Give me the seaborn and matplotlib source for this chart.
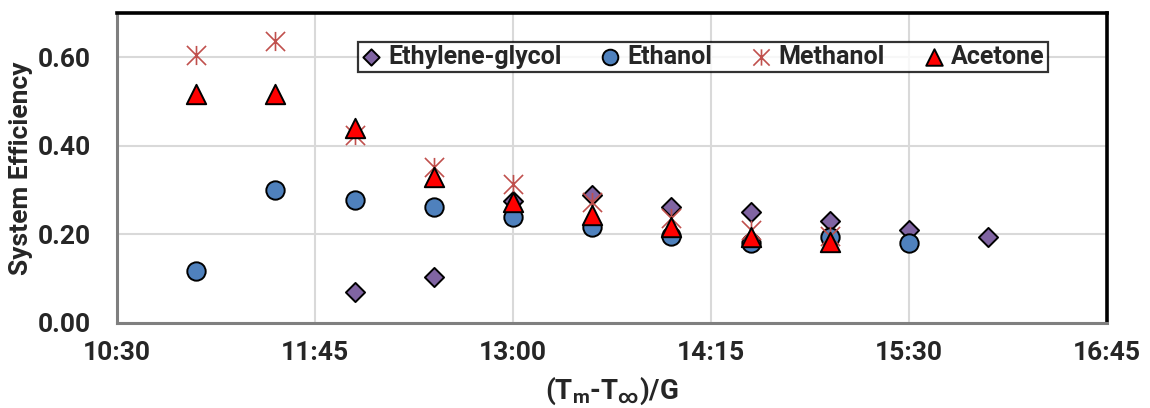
import numpy as np
import pandas as pd
import matplotlib
matplotlib.use("Agg")
import matplotlib.pyplot as plt
from matplotlib.path import Path
from matplotlib.ticker import FixedLocator, FuncFormatter
import seaborn as sns

# ---- data -------------------------------------------------------------
eg_times = ["12:00", "12:30", "13:00", "13:30", "14:00", "14:30", "15:00", "15:30", "16:00"]
eg_eff = [0.070, 0.104, 0.276, 0.290, 0.262, 0.251, 0.230, 0.211, 0.195]

et_times = ["11:00", "11:30", "12:00", "12:30", "13:00", "13:30", "14:00", "14:30", "15:00", "15:30"]
et_eff = [0.117, 0.300, 0.278, 0.262, 0.240, 0.217, 0.196, 0.181, 0.195, 0.181]

me_times = ["11:00", "11:30", "12:00", "12:30", "13:00", "13:30", "14:00", "14:30", "15:00"]
me_eff = [0.605, 0.636, 0.424, 0.353, 0.314, 0.274, 0.236, 0.211, 0.196]

ac_times = ["11:00", "11:30", "12:00", "12:30", "13:00", "13:30", "14:00", "14:30", "15:00"]
ac_eff = [0.518, 0.518, 0.440, 0.330, 0.274, 0.244, 0.217, 0.195, 0.183]

x_tick_labels = ["10:30", "11:45", "13:00", "14:15", "15:30", "16:45"]
y_ticks = [0.0, 0.2, 0.4, 0.6]


def to_minutes(t):
    h, m = t.split(":")
    return int(h) * 60 + int(m)


def fmt_time(v, _pos=None):
    v = int(round(v))
    return f"{v // 60}:{v % 60:02d}"


# asterisk marker: an X with a vertical bar through it
star_path = Path(
    [(-1, -1), (1, 1), (-1, 1), (1, -1), (0, -1), (0, 1)],
    [Path.MOVETO, Path.LINETO, Path.MOVETO, Path.LINETO, Path.MOVETO, Path.LINETO],
)

series = [
    ("Ethylene-glycol", eg_times, eg_eff, dict(marker="D", s=95, color="#8064A2",
                                               edgecolor="black", linewidth=1.4)),
    ("Ethanol", et_times, et_eff, dict(marker="o", s=175, color="#4F81BD",
                                       edgecolor="black", linewidth=1.4)),
    ("Methanol", me_times, me_eff, dict(marker=star_path, s=190, color="#C0504D",
                                        edgecolor="#C0504D", linewidth=1.2)),
    ("Acetone", ac_times, ac_eff, dict(marker="^", s=195, color="#FF0000",
                                       edgecolor="black", linewidth=1.4)),
]

frames = []
for name, times, eff, _ in series:
    frames.append(pd.DataFrame({"time": [to_minutes(t) for t in times],
                                "efficiency": eff, "fluid": name}))
df = pd.concat(frames, ignore_index=True)

# ---- styling ----------------------------------------------------------
FONT = "Roboto"
sns.set_theme(style="white")
plt.rcParams["font.family"] = [FONT, "DejaVu Sans"]
plt.rcParams["font.weight"] = "bold"
plt.rcParams["mathtext.fontset"] = "custom"
plt.rcParams["mathtext.rm"] = f"{FONT}:bold"
plt.rcParams["mathtext.it"] = f"{FONT}:bold"
plt.rcParams["mathtext.bf"] = f"{FONT}:bold"
plt.rcParams["mathtext.default"] = "regular"

fig = plt.figure(figsize=(11.5, 4.08), dpi=100)
ax = fig.add_axes([117 / 1150, 85 / 408, 990 / 1150, 310 / 408])

for z, (name, _, _, kw) in enumerate(series):
    sub = df[df["fluid"] == name]
    sns.scatterplot(data=sub, x="time", y="efficiency", ax=ax, label=name,
                    zorder=3 + z, **kw)

ax.set_xlim(to_minutes(x_tick_labels[0]), to_minutes(x_tick_labels[-1]))
ax.set_ylim(0, 0.70)
ax.xaxis.set_major_locator(FixedLocator([to_minutes(t) for t in x_tick_labels]))
ax.xaxis.set_major_formatter(FuncFormatter(fmt_time))
ax.yaxis.set_major_locator(FixedLocator(y_ticks))
ax.yaxis.set_major_formatter(FuncFormatter(lambda v, p: f"{v:.2f}"))

ax.grid(True, color="#D9D9D9", linewidth=1.5, zorder=0)
ax.set_axisbelow(True)
ax.tick_params(axis="both", length=0, labelsize=19)
ax.tick_params(axis="y", pad=19)
ax.tick_params(axis="x", pad=13)
for lab in ax.get_xticklabels() + ax.get_yticklabels():
    lab.set_fontweight("bold")

for side in ("left", "bottom"):
    ax.spines[side].set_color("#7F7F7F")
    ax.spines[side].set_linewidth(2.2)
for side in ("top", "right"):
    ax.spines[side].set_color("black")
    ax.spines[side].set_linewidth(2.6)

ax.set_ylabel("System Efficiency", fontsize=19, fontweight="bold", labelpad=3)
ax.set_xlabel("(T$_\\mathregular{m}$-T$_\\infty$)/G", fontsize=20,
              fontweight="bold", labelpad=7)

leg = ax.legend(loc="upper left", bbox_to_anchor=(0.243, 0.908), ncol=4,
                frameon=True, fancybox=False, edgecolor="black",
                prop={"family": FONT, "weight": "bold", "size": 18},
                handlelength=0.8, handletextpad=0.3, columnspacing=1.55,
                borderpad=0.12, borderaxespad=0, markerscale=0.85)
leg.get_frame().set_linewidth(1.6)

fig.savefig("out.png", dpi=100)
